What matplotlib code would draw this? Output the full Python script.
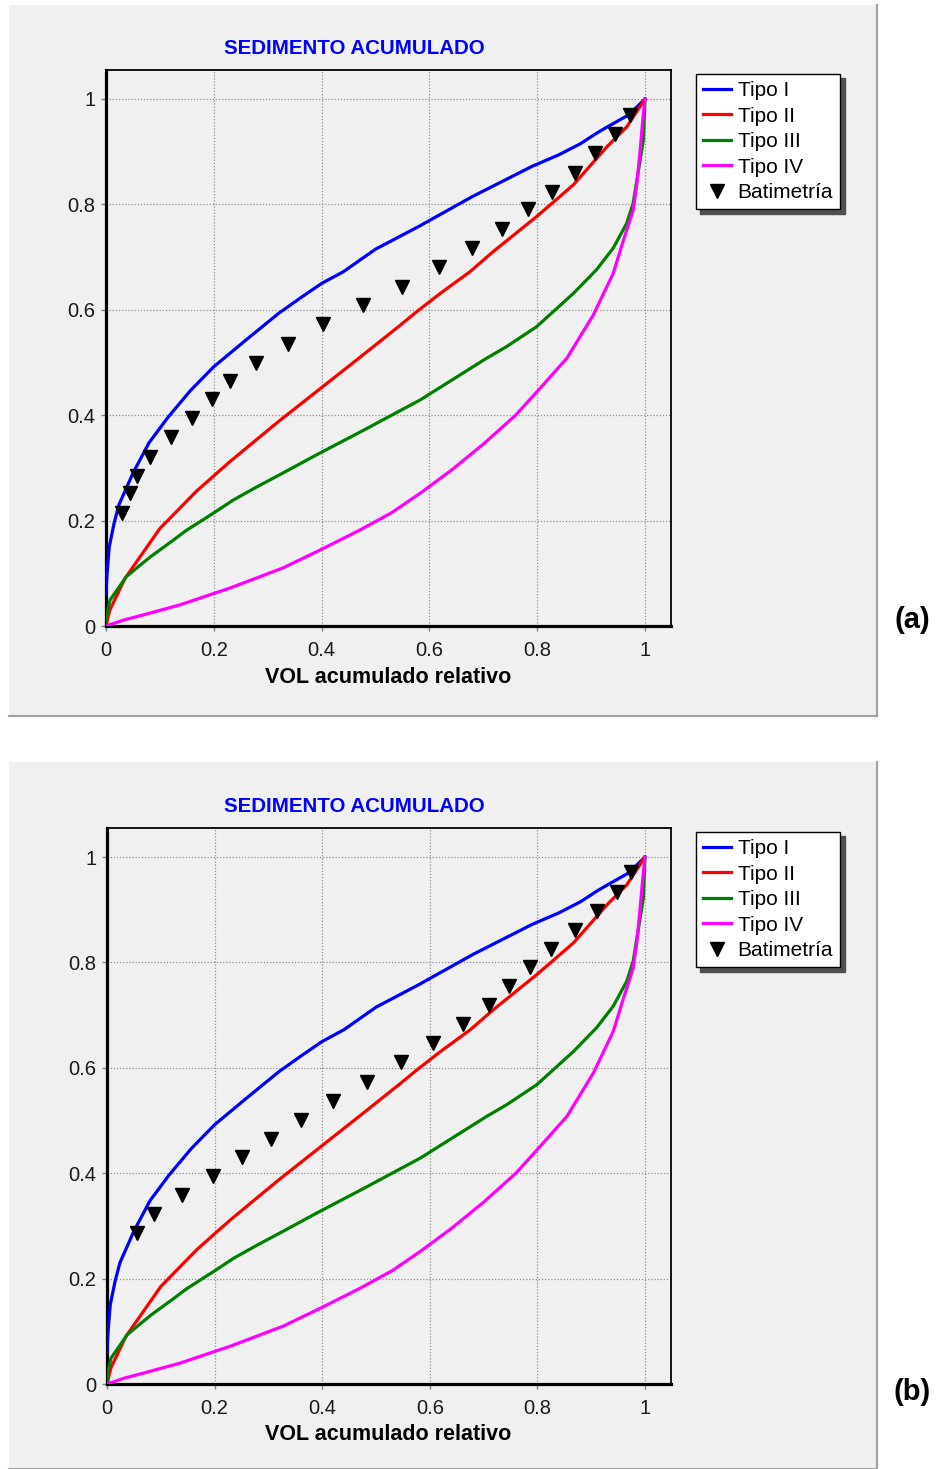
import matplotlib
matplotlib.use("Agg")
import matplotlib.pyplot as plt
from matplotlib.patches import Rectangle
from matplotlib.lines import Line2D

plt.rcParams['font.family'] = ['Liberation Sans', 'DejaVu Sans']

# ---- curves (shared by both panels) ----
tipo1_x = [0, 0.002, 0.006, 0.015, 0.024, 0.05, 0.08, 0.115, 0.156, 0.2, 0.26, 0.32,
           0.36, 0.40, 0.44, 0.50, 0.58, 0.68, 0.79, 0.84, 0.88, 0.91, 0.93, 0.97, 1.0]
tipo1_y = [0.06, 0.10, 0.15, 0.195, 0.23, 0.29, 0.348, 0.396, 0.446, 0.492, 0.543, 0.593,
           0.622, 0.65, 0.672, 0.715, 0.758, 0.815, 0.872, 0.894, 0.915, 0.935, 0.947, 0.970, 1.0]

tipo2_x = [0, 0.007, 0.035, 0.076, 0.1, 0.168, 0.23, 0.32, 0.397, 0.459, 0.496, 0.545,
           0.576, 0.62, 0.675, 0.719, 0.799, 0.867, 0.929, 0.966, 1.0]
tipo2_y = [0.0, 0.03, 0.09, 0.15, 0.185, 0.256, 0.312, 0.388, 0.450, 0.500, 0.530, 0.570,
           0.596, 0.631, 0.672, 0.711, 0.777, 0.837, 0.909, 0.947, 1.0]

tipo3_x = [0, 0.002, 0.0074, 0.038, 0.082, 0.125, 0.147, 0.199, 0.236, 0.28, 0.335, 0.391,
           0.434, 0.477, 0.583, 0.706, 0.743, 0.799, 0.867, 0.91, 0.941, 0.966, 0.978,
           0.984, 0.997, 1.0]
tipo3_y = [0.0, 0.025, 0.049, 0.094, 0.131, 0.163, 0.18, 0.214, 0.239, 0.264, 0.294, 0.325,
           0.348, 0.371, 0.429, 0.508, 0.53, 0.568, 0.631, 0.676, 0.717, 0.764, 0.802,
           0.84, 0.922, 1.0]

tipo4_x = [0, 0.032, 0.08, 0.137, 0.23, 0.328, 0.397, 0.471, 0.53, 0.583, 0.64, 0.7, 0.76,
           0.8, 0.855, 0.904, 0.941, 0.96, 0.978, 0.985, 0.991, 0.995, 1.0]
tipo4_y = [0, 0.011, 0.024, 0.04, 0.072, 0.11, 0.144, 0.182, 0.215, 0.252, 0.295, 0.345, 0.40,
           0.445, 0.508, 0.59, 0.669, 0.732, 0.789, 0.84, 0.903, 0.95, 1.0]

# ---- bathymetry points ----
bat_a_x = [0.029, 0.0445, 0.058, 0.0816, 0.1206, 0.1596, 0.196, 0.2306, 0.2777, 0.338, 0.403,
           0.477, 0.549, 0.617, 0.679, 0.735, 0.783, 0.827, 0.870, 0.908, 0.944, 0.973]
bat_a_y = [0.215, 0.252, 0.285, 0.321, 0.358, 0.394, 0.431, 0.464, 0.500, 0.536, 0.573,
           0.610, 0.644, 0.681, 0.717, 0.753, 0.791, 0.824, 0.860, 0.897, 0.933, 0.970]

bat_b_x = [0.0552, 0.0874, 0.1389, 0.1976, 0.2515, 0.3043, 0.3612, 0.4206, 0.4827, 0.5459,
           0.6054, 0.6617, 0.7095, 0.7478, 0.7862, 0.8253, 0.8699, 0.9113, 0.9474, 0.974]
bat_b_y = [0.2859, 0.3226, 0.3586, 0.3947, 0.4313, 0.4649, 0.5009, 0.5370, 0.5737, 0.6104,
           0.6465, 0.6825, 0.7192, 0.7558, 0.7918, 0.8254, 0.8615, 0.8975, 0.9342, 0.9710]

ticks = [0, 0.2, 0.4, 0.6, 0.8, 1]
tick_labels = ['0', '0.2', '0.4', '0.6', '0.8', '1']
series_names = ['Tipo I', 'Tipo II', 'Tipo III', 'Tipo IV']
bat_name = 'Batimetría'
title_text = 'SEDIMENTO ACUMULADO'
xlabel_text = 'VOL acumulado relativo'
tags = ['(a)', '(b)']

series = [(tipo1_x, tipo1_y, '#0000ff'), (tipo2_x, tipo2_y, '#ff0000'),
          (tipo3_x, tipo3_y, '#008000'), (tipo4_x, tipo4_y, '#ff00ff')]

W, H = 937, 1469
fig = plt.figure(figsize=(W / 100, H / 100), dpi=100)
fig.patch.set_facecolor('white')


def fx(px):
    return px / W


def fy(py):
    return 1 - py / H


panels = [
    dict(box=(9, 5, 877, 716), ax=(106, 70, 671, 626), x1=645, y1=99,
         bat=(bat_a_x, bat_a_y), tag=tags[0], tag_y=620, leg=(696, 74), title_y=48,
         label_y=677),
    dict(box=(9, 762, 877, 1469), ax=(107, 828, 671, 1384), x1=645, y1=857,
         bat=(bat_b_x, bat_b_y), tag=tags[1], tag_y=1392, leg=(696, 832), title_y=807,
         label_y=1434),
]

for p in panels:
    bx0, by0, bx1, by1 = p['box']
    fig.add_artist(Rectangle((fx(bx0), fy(by1)), (bx1 - bx0) / W, (by1 - by0) / H,
                             transform=fig.transFigure, facecolor='#f0f0f0',
                             edgecolor='none', zorder=0))
    fig.add_artist(Line2D([fx(bx1), fx(bx1)], [fy(by0), fy(by1)], transform=fig.transFigure,
                          color='#a0a0a0', lw=1.5, zorder=1))
    fig.add_artist(Line2D([fx(bx0), fx(bx1)], [fy(by1), fy(by1)], transform=fig.transFigure,
                          color='#a0a0a0', lw=1.5, zorder=1))

    l, t, r, b = p['ax']
    ax = fig.add_axes([fx(l), fy(b), (r - l) / W, (b - t) / H])
    ax.set_facecolor('#f0f0f0')
    ax.set_xlim(0, (r - l) / (p['x1'] - l))
    ax.set_ylim(0, (b - t) / (b - p['y1']))

    for x, y, c in series:
        ax.plot(x, y, color=c, lw=2.3, zorder=3, solid_joinstyle='round')
    bx, by = p['bat']
    ax.plot(bx, by, linestyle='none', marker='v', color='black', ms=10.5, zorder=4)

    ax.set_xticks(ticks)
    ax.set_xticklabels(tick_labels)
    ax.set_yticks(ticks)
    ax.set_yticklabels(tick_labels)
    ax.tick_params(axis='both', direction='out', length=3.6, width=1, color='#808080',
                   labelsize=14.5, labelcolor='#1a1a1a')
    ax.tick_params(axis='x', pad=7)
    ax.tick_params(axis='y', pad=4)
    ax.grid(True, color='#909090', linestyle=(0, (1, 1.5)), lw=0.9)
    ax.set_axisbelow(True)

    for side in ['left', 'bottom']:
        ax.spines[side].set_linewidth(2.3)
    for side in ['top', 'right']:
        ax.spines[side].set_linewidth(1.3)

    ax.set_xlabel(xlabel_text, fontsize=15.5, fontweight='bold')
    ax.xaxis.set_label_coords((388 - l) / (r - l), (b - p['label_y']) / (b - t))
    ax.xaxis.label.set_va('center')

    fig.text(fx(354), fy(p['title_y']), title_text, color='#0000ff', fontsize=14.8,
             fontweight='bold', ha='center', va='center')
    fig.text(fx(912), fy(p['tag_y']), p['tag'], fontsize=21, fontweight='bold',
             ha='center', va='center')

    handles = [Line2D([], [], color=c, lw=2.3) for _, _, c in series]
    handles.append(Line2D([], [], linestyle='none', marker='v', color='black', ms=10.5))
    leg = ax.legend(handles, series_names + [bat_name], loc='upper left',
                    bbox_to_anchor=(fx(p['leg'][0]), fy(p['leg'][1])),
                    bbox_transform=fig.transFigure, borderaxespad=0, fontsize=15,
                    fancybox=False, framealpha=1, facecolor='white', edgecolor='black',
                    handlelength=1.35, handletextpad=0.3, labelspacing=0.31,
                    borderpad=0.35, shadow={'ox': 3, 'oy': -3, 'color': '#505050', 'alpha': 1})
    leg.get_frame().set_linewidth(1.0)

fig.savefig('out.png', dpi=100, facecolor='white')
